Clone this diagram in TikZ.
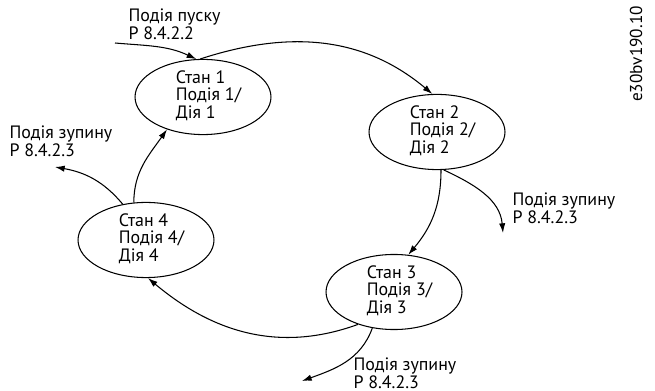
\documentclass[tikz,border=0pt]{standalone}
\usepackage{fontspec}
\setmainfont{PT Sans}
\usetikzlibrary{shapes.geometric, arrows.meta}

% state text sits a little right of the ellipse centre
\newcommand{\statetxt}[1]{\begin{tabular}{@{\hspace{0.22cm}}l@{}}#1\end{tabular}}

\begin{document}
\begin{tikzpicture}[x=0.02cm, y=-0.02cm, line width=0.6pt,
	state/.style={draw, ellipse, minimum width=2.72cm, minimum height=1.42cm, inner sep=0pt, font=\fontsize{10.2}{9.4}\selectfont},
	event/.style={anchor=north west, inner sep=0pt, align=left, font=\fontsize{10.2}{8.6}\selectfont},
	trans/.style={-{Latex[length=5.5pt, width=3.6pt]}}]
	\useasboundingbox (0, 0) rectangle (655, 391);

	\node[state] (s1) at (203, 97) {\statetxt{Стан 1\\Подія 1/\\Дія 1}};
	\node[state] (s2) at (437, 132) {\statetxt{Стан 2\\Подія 2/\\Дія 2}};
	\node[state] (s3) at (394, 292) {\statetxt{Стан 3\\Подія 3/\\Дія 3}};
	\node[state] (s4) at (146, 240) {\statetxt{Стан 4\\Подія 4/\\Дія 4}};

	\node[event] (start) at (128, 8) {Подія пуску\\P 8.4.2.2};
	\node[event] (stop4) at (9, 125) {Подія зупину\\P 8.4.2.3};
	\node[event] (stop2) at (512, 192) {Подія зупину\\P 8.4.2.3};
	\node[event] (stop3) at (353, 357) {Подія зупину\\P 8.4.2.3};
	\node[rotate=90, font=\fontsize{9.8}{9.8}\selectfont, inner sep=0pt] (id) at (636, 54) {e30bv190.10};

	\coordinate (in1) at (115, 43);
	\coordinate (out2) at (503, 233);
	\coordinate (out3) at (302, 381);
	\coordinate (out4) at (55, 167);

	\draw[trans] (in1) to[out=-5, in=155] (s1.100);
	\draw[trans] (s1.94) to[out=18, in=140] (s2.97);
	\draw[trans] (s2.276) to[out=-90, in=50] (s3.69);
	\draw[trans] (s2.280) to[out=-25, in=95] (out2);
	\draw[trans] (s3.222) to[out=200, in=-40] (s4.273);
	\draw[trans] (s3.239) to[out=250, in=20] (out3);
	\draw[trans] (s4.108) to[out=90, in=235] (s1.222);
	\draw[trans] (s4.123) to[out=130, in=-10] (out4);
\end{tikzpicture}
\end{document}
